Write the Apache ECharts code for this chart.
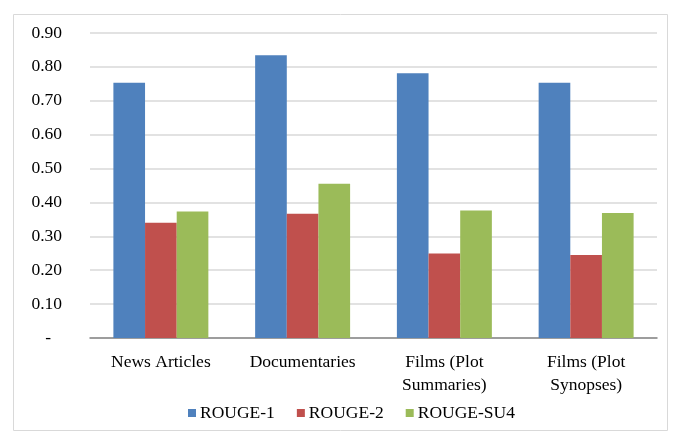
<!doctype html>
<html>
<head>
    <meta charset="utf-8">
    <title>rouge</title>
    <script src="https://cdn.jsdelivr.net/npm/echarts@6/dist/echarts.min.js"></script>
    <style>
        html, body { margin: 0; padding: 0; background: #fff; }
        #main { width: 682px; height: 442px; }
    </style>
</head>
<body>
<div id="main"></div>
<script>
    // 数据
    const categories = ['News Articles', 'Documentaries', 'Films (Plot\nSummaries)', 'Films (Plot\nSynopses)'];
    const rouge1 = [0.753, 0.834, 0.781, 0.753];
    const rouge2 = [0.340, 0.367, 0.249, 0.245];
    const rougeSU4 = [0.373, 0.455, 0.376, 0.369];

    const font = '"Liberation Serif", "DejaVu Serif", serif';
    const fs = 17.5;
    const myChart = echarts.init(document.getElementById('main'));

    const option = {
        animation: false,
        textStyle: {fontFamily: font},
        color: ['#4F81BD', '#C0504D', '#9BBB59'],
        graphic: [{
            type: 'rect',
            shape: {x: 13.5, y: 14.5, width: 654, height: 416},
            style: {fill: 'none', stroke: '#D9D9D9', lineWidth: 1},
            silent: true
        }],
        grid: {left: 90, right: 25, top: 33, bottom: 104},
        legend: {
            top: 399,
            left: 183,
            itemWidth: 8,
            itemHeight: 8,
            itemGap: 22,
            icon: 'rect',
            textStyle: {fontFamily: font, fontSize: fs, color: '#000', padding: [0, 0, 0, -1]},
            data: ['ROUGE-1', 'ROUGE-2', 'ROUGE-SU4']
        },
        xAxis: {
            type: 'category',
            data: categories,
            axisLine: {lineStyle: {color: '#868686', width: 1.5}},
            axisTick: {show: false},
            axisLabel: {fontFamily: font, fontSize: fs, color: '#000', margin: 13, lineHeight: 23}
        },
        yAxis: {
            type: 'value',
            min: 0,
            max: 0.9,
            interval: 0.1,
            axisLine: {show: false},
            axisTick: {show: false},
            splitLine: {lineStyle: {color: '#D9D9D9', width: 1.5}},
            axisLabel: {
                fontFamily: font, fontSize: fs, color: '#000', margin: 28,
                formatter: function (v) {
                    return v === 0 ? '{d|-}' : v.toFixed(2);
                },
                rich: {d: {fontFamily: font, fontSize: fs, color: '#000', padding: [0, 11, 0, 0]}}
            }
        },
        series: [
            {name: 'ROUGE-1', type: 'bar', data: rouge1, barGap: '0%', barCategoryGap: '33%'},
            {name: 'ROUGE-2', type: 'bar', data: rouge2, barGap: '0%', barCategoryGap: '33%'},
            {name: 'ROUGE-SU4', type: 'bar', data: rougeSU4, barGap: '0%', barCategoryGap: '33%'}
        ]
    };

    myChart.setOption(option);
</script>
</body>
</html>
